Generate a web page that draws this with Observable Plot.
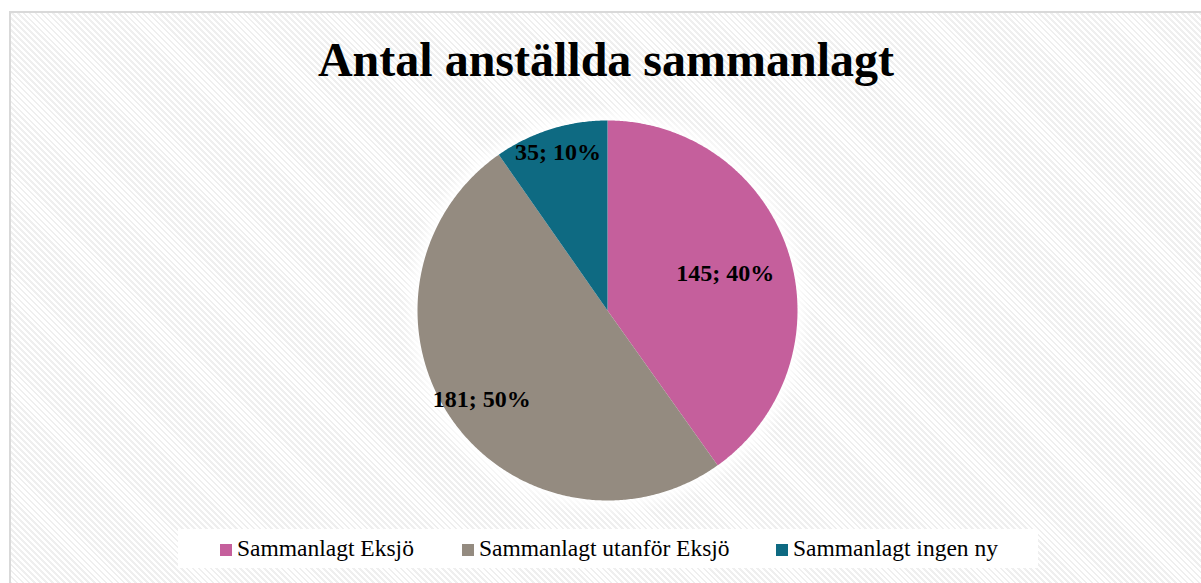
<!DOCTYPE html>
<html><head><meta charset="utf-8">
<script src="https://cdn.jsdelivr.net/npm/d3@7"></script>
<script src="https://cdn.jsdelivr.net/npm/@observablehq/plot@0.6"></script>
<style>
html,body{margin:0;padding:0;background:#fff;width:1201px;height:583px;overflow:hidden;}
#frame{position:absolute;left:9px;top:11px;width:1200px;height:580px;border-top:2px solid #d9d9d9;border-left:2px solid #d9d9d9;
 background:repeating-linear-gradient(45deg,#ffffff 0px,#ffffff 2.3px,#efefef 2.3px,#efefef 4.2px);}
#title{position:absolute;left:0;width:1212px;top:32px;text-align:center;font-family:"Liberation Serif","Times New Roman",serif;font-weight:bold;font-size:48px;line-height:56px;color:#000;}
#chart{position:absolute;left:0;top:0;}
#legend{position:absolute;left:178px;top:529px;width:860px;height:39px;background:#fff;font-family:"Liberation Serif","Times New Roman",serif;font-size:23.5px;color:#000;}
.item{position:absolute;top:5px;white-space:nowrap;line-height:28px;}
.sw{display:inline-block;width:12px;height:12px;margin-right:5px;vertical-align:0px;}
</style>
</head><body>
<div id="frame"></div>
<div id="title">Antal anställda sammanlagt</div>
<div id="chart"></div>
<div id="legend"></div>
<script>
const categories = ["Sammanlagt Eksjö", "Sammanlagt utanför Eksjö", "Sammanlagt ingen ny"];
const values = [145, 181, 35];
const colors = ["#C55F9C", "#948B80", "#0E6A82"];
const labelRadius = [0.65, 0.81, 0.87];

const total = d3.sum(values);
const arcs = d3.pie().sort(null).startAngle(0).endAngle(2 * Math.PI)(values);

const slicePts = [];
arcs.forEach((a, i) => {
  slicePts.push({cat: categories[i], x: 0, y: 0});
  const n = Math.max(2, Math.ceil((a.endAngle - a.startAngle) / (Math.PI / 360)));
  for (let k = 0; k <= n; k++) {
    const t = a.startAngle + (a.endAngle - a.startAngle) * k / n;
    slicePts.push({cat: categories[i], x: Math.sin(t), y: Math.cos(t)});
  }
});
const glowPts = d3.range(0, 721).map(k => ({x: Math.sin(k * Math.PI / 360), y: Math.cos(k * Math.PI / 360)}));
const labels = arcs.map((a, i) => {
  const m = (a.startAngle + a.endAngle) / 2;
  return {x: labelRadius[i] * Math.sin(m), y: labelRadius[i] * Math.cos(m),
          text: `${values[i]}; ${Math.round(values[i] / total * 100)}%`};
});

const plot = Plot.plot({
  width: 1201, height: 583,
  margin: 0,
  style: {background: "transparent", overflow: "visible"},
  x: {domain: [-1, 1], range: [417, 797], axis: null},
  y: {domain: [-1, 1], range: [500, 120], axis: null},
  color: {domain: categories, range: colors},
  marks: [
    Plot.line(glowPts, {x: "x", y: "y", curve: "linear-closed", fill: "#ffffff", stroke: "#ffffff", strokeWidth: 14}),
    Plot.line(slicePts, {x: "x", y: "y", z: "cat", fill: "cat", stroke: "none", curve: "linear-closed"}),
    Plot.text(labels, {x: "x", y: "y", text: "text", fontSize: 24, fontWeight: "bold", fill: "#000",
      fontFamily: "Liberation Serif, Times New Roman, serif"})
  ]
});
d3.select(plot).select('g[aria-label="line"]').style("filter", "blur(7px)");
document.getElementById("chart").appendChild(plot);

const legendX = [42, 284, 598];
const lg = document.getElementById("legend");
categories.forEach((c, i) => {
  const d = document.createElement("div");
  d.className = "item";
  d.style.left = legendX[i] + "px";
  d.innerHTML = `<span class="sw" style="background:${colors[i]}"></span>${c}`;
  lg.appendChild(d);
});
</script>
</body></html>
